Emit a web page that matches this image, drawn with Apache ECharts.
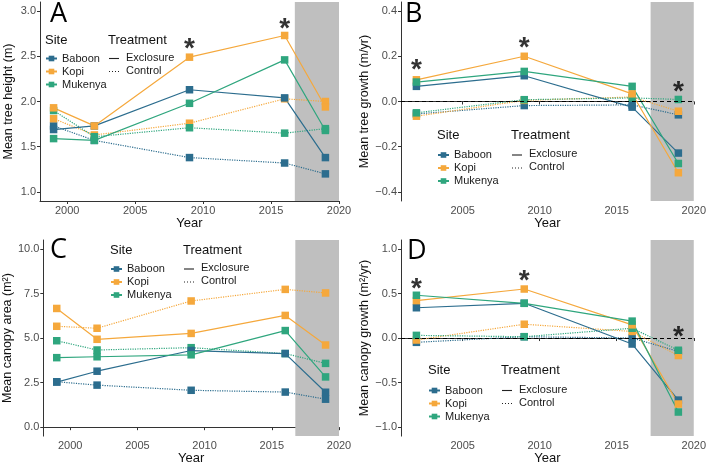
<!DOCTYPE html>
<html lang="en">
<head>
    <meta charset="UTF-8">
    <script src="https://cdn.jsdelivr.net/npm/echarts@6.0.0/dist/echarts.min.js"></script>
    <title>Tree height and canopy</title>
    <style>
        html, body { margin: 0; padding: 0; background: #fff; }
        #container { width: 709px; height: 466px; }
    </style>
</head>
<body>
<div id="container"></div>
<script type="application/javascript">
    // survey years
    const yearsAll = [1999, 2002, 2009, 2016, 2019];
    const yearsGrowth = [2002, 2009, 2016, 2019];
    const sites = ['Baboon', 'Kopi', 'Mukenya'];
    const siteColors = ['#2c6d8e', '#f5a83c', '#2fa67e'];
    const treatments = ['Exclosure', 'Control'];

    // A: mean tree height (m)
    const heightExclBaboon = [1.69, 1.73, 2.13, 2.04, 1.38];
    const heightExclKopi = [1.93, 1.73, 2.49, 2.73, 1.94];
    const heightExclMukenya = [1.59, 1.57, 1.98, 2.46, 1.68];
    const heightCtrlBaboon = [1.73, 1.57, 1.38, 1.32, 1.20];
    const heightCtrlKopi = [1.81, 1.63, 1.76, 2.03, 2.00];
    const heightCtrlMukenya = [1.90, 1.61, 1.71, 1.65, 1.70];

    // B: mean tree growth (m/yr)
    const growthExclBaboon = [0.067, 0.114, -0.025, -0.228];
    const growthExclKopi = [0.096, 0.200, 0.034, -0.315];
    const growthExclMukenya = [0.086, 0.133, 0.067, -0.274];
    const growthCtrlBaboon = [-0.055, -0.018, -0.015, -0.059];
    const growthCtrlKopi = [-0.065, 0.005, 0.020, -0.043];
    const growthCtrlMukenya = [-0.050, 0.008, 0.016, 0.009];

    // C: mean canopy area (m2)
    const areaExclBaboon = [2.53, 3.14, 4.30, 4.13, 1.96];
    const areaExclKopi = [6.66, 4.93, 5.26, 6.27, 4.61];
    const areaExclMukenya = [3.90, 3.95, 4.06, 5.42, 2.82];
    const areaCtrlBaboon = [2.55, 2.36, 2.07, 1.97, 1.57];
    const areaCtrlKopi = [5.66, 5.55, 7.08, 7.73, 7.53];
    const areaCtrlMukenya = [4.85, 4.33, 4.46, 4.13, 3.58];

    // D: mean canopy growth (m2/yr)
    const canopyExclBaboon = [0.34, 0.39, -0.067, -0.696];
    const canopyExclKopi = [0.42, 0.55, 0.148, -0.74];
    const canopyExclMukenya = [0.48, 0.39, 0.19, -0.83];
    const canopyCtrlBaboon = [-0.048, 0.015, 0.0, -0.15];
    const canopyCtrlKopi = [-0.022, 0.155, 0.074, -0.196];
    const canopyCtrlMukenya = [0.03, 0.015, 0.11, -0.137];

    // significance asterisks [year, value]
    const starsA = [[2009, 2.66], [2016, 2.88]];
    const starsB = [[2002, 0.17], [2009, 0.265], [2019, 0.07]];
    const starsD = [[2002, 0.63], [2009, 0.72], [2019, 0.09]];

    // shaded period start
    const shadeStartA = 2016.75;
    const shadeStartB = 2017.2;

    const font = 'Liberation Sans';
    const axisColor = '#333';
    const tickColor = '#4d4d4d';

    const grids = [
        {left: 40, top: 2, width: 299, height: 199},
        {left: 401, top: 2, width: 296, height: 199},
        {left: 40, top: 240, width: 299, height: 199},
        {left: 401, top: 240, width: 296, height: 198}
    ];

    function fmt(v) {
        return (v < 0 ? '\u2212' : '') + Math.abs(v).toFixed(1);
    }

    function xAxisFor(idx, min, ticks) {
        return {
            type: 'value', gridIndex: idx, min: min, max: 2020,
            name: 'Year', nameLocation: 'middle', nameGap: 13,
            nameTextStyle: {fontFamily: font, fontSize: 13, color: '#111'},
            axisLine: {lineStyle: {color: axisColor, width: 1}},
            axisTick: {customValues: ticks, length: 3, lineStyle: {color: axisColor}},
            axisLabel: {customValues: ticks, margin: 4, fontFamily: font, fontSize: 11, color: tickColor,
                formatter: v => String(v)},
            splitLine: {show: false}
        };
    }

    function yAxisFor(idx, min, max, ticks, name, gap) {
        return {
            type: 'value', gridIndex: idx, min: min, max: max,
            name: name, nameLocation: 'middle', nameGap: gap,
            nameTextStyle: {fontFamily: font, fontSize: 12.5, color: '#111'},
            axisLine: {show: true, lineStyle: {color: axisColor, width: 1}},
            axisTick: {show: true, customValues: ticks, length: 3, lineStyle: {color: axisColor}},
            axisLabel: {customValues: ticks, margin: 4, fontFamily: font, fontSize: 11, color: tickColor, formatter: fmt},
            splitLine: {show: false}
        };
    }

    let series = [];

    function addPanel(idx, years, excl, ctrl, shadeStart, zeroLine, stars) {
        let helper = {
            type: 'line', xAxisIndex: idx, yAxisIndex: idx, data: [], z: 1, silent: true,
            markArea: {silent: true, itemStyle: {color: '#bfbfbf'}, data: [[{xAxis: shadeStart}, {xAxis: 2020}]]}
        };
        if (zeroLine) {
            helper.markLine = {
                silent: true, symbol: 'none', label: {show: false},
                lineStyle: {color: '#000', type: [4, 3], width: 1},
                data: [{yAxis: 0}]
            };
        }
        series.push(helper);
        [ctrl, excl].forEach(function (group, g) {
            group.forEach(function (vals, s) {
                series.push({
                    name: sites[s], type: 'line', xAxisIndex: idx, yAxisIndex: idx, z: 3,
                    data: years.map((y, i) => [y, vals[i]]),
                    symbol: 'rect', symbolSize: 7.5, showSymbol: true,
                    itemStyle: {color: siteColors[s]},
                    lineStyle: {color: siteColors[s], width: 1.2, type: g === 0 ? 'dotted' : 'solid'}
                });
            });
        });
        if (stars) {
            series.push({
                type: 'scatter', xAxisIndex: idx, yAxisIndex: idx, z: 5, data: stars,
                symbolSize: 1, itemStyle: {color: 'transparent'},
                label: {show: true, position: 'inside', formatter: '*', offset: [0, 7],
                    fontFamily: font, fontWeight: 'bold', fontSize: 28, color: '#000'}
            });
        }
    }

    addPanel(0, yearsAll, [heightExclBaboon, heightExclKopi, heightExclMukenya],
        [heightCtrlBaboon, heightCtrlKopi, heightCtrlMukenya], shadeStartA, false, starsA);
    addPanel(1, yearsGrowth, [growthExclBaboon, growthExclKopi, growthExclMukenya],
        [growthCtrlBaboon, growthCtrlKopi, growthCtrlMukenya], shadeStartB, true, starsB);
    addPanel(2, yearsAll, [areaExclBaboon, areaExclKopi, areaExclMukenya],
        [areaCtrlBaboon, areaCtrlKopi, areaCtrlMukenya], shadeStartA, false, null);
    addPanel(3, yearsGrowth, [canopyExclBaboon, canopyExclKopi, canopyExclMukenya],
        [canopyCtrlBaboon, canopyCtrlKopi, canopyCtrlMukenya], shadeStartB, true, starsD);

    // legend placement per panel: [site left, treatment left, first row top, title centre y]
    const legendPos = [[45, 109, 52, 42], [437, 512, 148.5, 137], [110, 184, 262.5, 252], [428, 502, 384, 372]];
    let legends = [];
    let graphics = [];
    const titleFont = '13px "' + font + '"';
    legendPos.forEach(function (p) {
        legends.push({
            orient: 'vertical', top: p[2], left: p[0], padding: 0, itemGap: 0,
            itemWidth: 11, itemHeight: 7, selectedMode: false,
            data: sites.map(s => ({name: s, lineStyle: {type: 'solid'}})),
            textStyle: {fontFamily: font, fontSize: 11, color: '#1a1a1a', lineHeight: 13}
        });
        graphics.push({type: 'text', left: p[0], top: p[3] - 8,
            style: {text: 'Site', font: titleFont, fill: '#111'}});
        graphics.push({type: 'text', left: p[1] - 1, top: p[3] - 8,
            style: {text: 'Treatment', font: titleFont, fill: '#111'}});
        // treatment keys (line type only)
        treatments.forEach(function (t, k) {
            let cy = p[2] + 6.5 + k * 13;
            graphics.push({type: 'line', shape: {x1: p[1], y1: cy, x2: p[1] + 10, y2: cy},
                style: {stroke: '#222', lineWidth: 1.1, lineDash: k === 0 ? null : [1, 2]}});
            graphics.push({type: 'text', left: p[1] + 17, top: cy - 6.5,
                style: {text: t, font: '11px "' + font + '"', fill: '#1a1a1a'}});
        });
    });

    const letters = [['A', 50, 1], ['B', 405, 1], ['C', 50, 237], ['D', 407, 238]];
    letters.forEach(function (l) {
        graphics.push({type: 'text', left: l[1], top: l[2],
            style: {text: l[0], font: '27px "Open Sans"', fill: '#000'}});
    });

    const option = {
        animation: false,
        backgroundColor: '#fff',
        grid: grids,
        xAxis: [
            xAxisFor(0, 1998, [2000, 2005, 2010, 2015, 2020]),
            xAxisFor(1, 2001, [2005, 2010, 2015, 2020]),
            xAxisFor(2, 1998, [2000, 2005, 2010, 2015, 2020]),
            xAxisFor(3, 2001, [2005, 2010, 2015, 2020])
        ],
        yAxis: [
            yAxisFor(0, 0.9, 3.1, [1.0, 1.5, 2.0, 2.5, 3.0], 'Mean tree height (m)', 25),
            yAxisFor(1, -0.44, 0.44, [-0.4, -0.2, 0, 0.2, 0.4], 'Mean tree growth (m/yr)', 29),
            yAxisFor(2, -0.5, 10.5, [0, 2.5, 5, 7.5, 10], 'Mean canopy area (m\u00b2)', 26),
            yAxisFor(3, -1.1, 1.1, [-1, -0.5, 0, 0.5, 1], 'Mean canopy growth (m\u00b2/yr)', 27)
        ],
        legend: legends,
        graphic: graphics,
        series: series
    };

    const myChart = echarts.init(document.getElementById('container'), null, {renderer: 'canvas'});
    myChart.setOption(option);

    window.onresize = function () {
        myChart.resize();
    }
</script>
</body>
</html>
